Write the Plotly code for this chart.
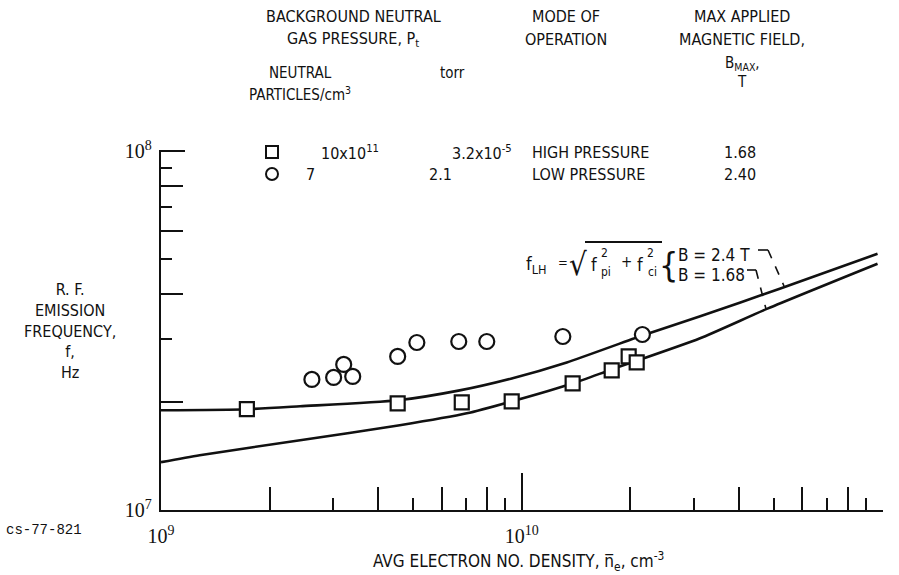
import plotly.graph_objects as go

# ---- measured data -------------------------------------------------------
# High pressure mode (squares), B_max = 1.68 T
hp_density = [1.73e9, 4.53e9, 6.82e9, 9.38e9, 1.384e10, 1.776e10, 1.979e10, 2.083e10]
hp_freq = [1.909e7, 1.983e7, 1.995e7, 2.008e7, 2.253e7, 2.448e7, 2.678e7, 2.577e7]

# Low pressure mode (circles), B_max = 2.40 T
lp_density = [2.62e9, 3.01e9, 3.21e9, 3.40e9, 4.53e9, 5.12e9, 6.69e9, 8.0e9, 1.30e10, 2.16e10]
lp_freq = [2.311e7, 2.341e7, 2.544e7, 2.356e7, 2.678e7, 2.929e7, 2.948e7, 2.948e7, 3.044e7, 3.083e7]

# Lower hybrid frequency curves f_LH = sqrt(f_pi^2 + f_ci^2)
lh_hi_density = [1.0e9, 1.73e9, 2.43e9, 4.53e9, 6.73e9, 9.38e9, 1.333e10, 2.16e10, 3.11e10, 5.19e10, 9.69e10]
lh_hi_freq = [1.896e7, 1.909e7, 1.945e7, 2.021e7, 2.154e7, 2.326e7, 2.577e7, 3.063e7, 3.459e7, 4.137e7, 5.175e7]

lh_lo_density = [1.0e9, 1.28e9, 2.43e9, 4.59e9, 7.04e9, 9.38e9, 1.384e10, 1.776e10, 3.11e10, 4.80e10, 9.69e10]
lh_lo_freq = [1.359e7, 1.421e7, 1.565e7, 1.722e7, 1.859e7, 2.008e7, 2.253e7, 2.464e7, 3.005e7, 3.640e7, 4.855e7]

# legend table rows
neutral_density = ["10x10<sup>11</sup>", "7"]
pressure_torr = ["3.2x10<sup>-5</sup>", "2.1"]
operation_mode = ["HIGH PRESSURE", "LOW PRESSURE"]
b_max = ["1.68", "2.40"]

# tick values and labels
x_decades = [1e9, 1e10, 1e11]
x_decade_text = ["10<sup>9</sup>", "10<sup>10</sup>", "10<sup>11</sup>"]
y_decades = [1e7, 1e8]
y_decade_text = ["10<sup>7</sup>", "10<sup>8</sup>"]
even_x_ticks = [k * 10 ** e for e in (9, 10) for k in (2, 4, 6, 8)]
odd_x_ticks = [k * 10 ** e for e in (9, 10) for k in (3, 5, 7, 9)]
even_y_ticks = [2e7, 4e7, 6e7, 8e7]
odd_y_ticks = [3e7, 5e7, 7e7, 9e7]

# ---- layout geometry (pixels) -------------------------------------------
W, H = 899, 575
L, R, T, B = 161, 16, 150, 65
PW, PH = W - L - R, H - T - B

FONT = "DejaVu Sans Condensed, Liberation Sans Narrow, sans-serif"
SERIF = "Liberation Serif, DejaVu Serif, serif"
INK = "#111111"

# log ranges, nudged a hair past the end decades so their ticks are drawn
X_RANGE = [9, 11.0015]
Y_RANGE = [7, 8.003]


def px(x):
    return (x - L) / PW


def py(y):
    return (H - B - y) / PH


fig = go.Figure()

line_style = dict(color=INK, width=2.6, shape="spline", smoothing=0.6)
fig.add_trace(go.Scatter(x=lh_hi_density, y=lh_hi_freq, mode="lines", line=line_style,
                         showlegend=False, hoverinfo="skip"))
fig.add_trace(go.Scatter(x=lh_lo_density, y=lh_lo_freq, mode="lines", line=line_style,
                         showlegend=False, hoverinfo="skip"))

fig.add_trace(go.Scatter(x=hp_density, y=hp_freq, mode="markers", name="HIGH PRESSURE",
                         marker=dict(symbol="square", size=14, color="white",
                                     line=dict(color=INK, width=2.2)),
                         showlegend=False))
fig.add_trace(go.Scatter(x=lp_density, y=lp_freq, mode="markers", name="LOW PRESSURE",
                         marker=dict(symbol="circle", size=15, color="white",
                                     line=dict(color=INK, width=2.2)),
                         showlegend=False))

# overlay axes carrying the mid-length (even) tick marks
fig.add_trace(go.Scatter(x=[None], y=[None], xaxis="x2", yaxis="y2", showlegend=False))

axis_common = dict(type="log", showgrid=False, zeroline=False, showline=True,
                   linecolor=INK, linewidth=2.4, ticks="inside", tickcolor=INK,
                   tickwidth=2, mirror=False,
                   tickfont=dict(family=SERIF, size=20, color=INK))

fig.update_layout(
    width=W, height=H,
    margin=dict(l=L, r=R, t=T, b=B, pad=0),
    paper_bgcolor="white", plot_bgcolor="white",
    xaxis=dict(axis_common, range=X_RANGE, tickvals=x_decades, ticktext=x_decade_text,
               ticklen=37, ticklabelstandoff=7,
               minor=dict(tickvals=odd_x_ticks, ticklen=12, tickwidth=1.6, tickcolor=INK,
                          ticks="inside")),
    yaxis=dict(axis_common, range=Y_RANGE, tickvals=y_decades, ticktext=y_decade_text,
               ticklen=24, ticklabelstandoff=3,
               minor=dict(tickvals=odd_y_ticks, ticklen=11, tickwidth=1.6, tickcolor=INK,
                          ticks="inside")),
    xaxis2=dict(type="log", range=X_RANGE, overlaying="x", anchor="y", side="bottom",
                showgrid=False, zeroline=False, showline=False, showticklabels=False,
                ticks="inside", tickvals=even_x_ticks, ticklen=23, tickwidth=1.8, tickcolor=INK),
    yaxis2=dict(type="log", range=Y_RANGE, overlaying="y", anchor="x", side="left",
                showgrid=False, zeroline=False, showline=False, showticklabels=False,
                ticks="inside", tickvals=even_y_ticks, ticklen=22, tickwidth=1.8, tickcolor=INK),
)

annotations = []


def text(x, y, s, size=16, anchor="center", family=FONT):
    annotations.append(dict(xref="paper", yref="paper", x=px(x), y=py(y), text=s,
                            showarrow=False, xanchor=anchor, yanchor="middle",
                            font=dict(family=family, size=size, color=INK)))


# column headings
text(353, 16, "BACKGROUND NEUTRAL")
text(353, 39, "GAS PRESSURE, P<sub>t</sub>")
text(300, 73, "NEUTRAL", 15)
text(300, 94, "PARTICLES/cm<sup>3</sup>", 15)
text(452, 73, "torr", 15)
text(566, 16, "MODE OF")
text(566, 39, "OPERATION")
text(742, 16, "MAX APPLIED")
text(742, 39, "MAGNETIC FIELD,")
text(742, 64, "B<sub>MAX</sub>,", 15)
text(742, 82, "T", 15)

# table rows: symbol key, particle density, pressure, mode, field
row_y = [152, 174]
density_x = [350, 310]
pressure_x = [482, 440]
for ry, dx, tx, nd, pt, mode, bm in zip(row_y, density_x, pressure_x,
                                         neutral_density, pressure_torr, operation_mode, b_max):
    text(dx, ry, nd)
    text(tx, ry, pt)
    text(530, ry, mode, anchor="left")
    text(740, ry, bm)

# axis titles and figure code
text(70, 331, "R. F.<br>EMISSION<br>FREQUENCY,<br>f,<br>Hz", 16)
text(518, 561, "AVG ELECTRON NO. DENSITY, n&#773;<sub>e</sub>, cm<sup>-3</sup>", 17)
text(44, 530, "cs-77-821", 14, family="Liberation Mono, DejaVu Sans Mono, monospace")

# formula f_LH = sqrt(f_pi^2 + f_ci^2)
text(536, 265, "f<sub>LH</sub>", 18)
text(563, 262, "=", 13)
text(578, 264, "&#8730;", 31)
text(594, 264, "f", 18)
text(604, 253, "2", 12)
text(606, 272, "pi", 12)
text(626, 262, "+", 15)
text(640, 264, "f", 18)
text(650, 253, "2", 12)
text(652, 272, "ci", 12)
text(668, 265, "{", 34)
text(676, 255, "B = 2.4 T", 17, anchor="left")
text(676, 275, "B = 1.68", 17, anchor="left")

shapes = [
    # radical bar
    dict(type="line", xref="paper", yref="paper", x0=px(585), x1=px(662), y0=py(242), y1=py(242),
         line=dict(color=INK, width=1.8)),
    # leader hooks to the curves
    dict(type="line", xref="paper", yref="paper", x0=px(758), x1=px(768), y0=py(250), y1=py(250),
         line=dict(color=INK, width=1.6)),
    dict(type="line", xref="paper", yref="paper", x0=px(768), x1=px(784), y0=py(250), y1=py(286),
         line=dict(color=INK, width=1.6, dash="dash")),
    dict(type="line", xref="paper", yref="paper", x0=px(747), x1=px(756), y0=py(270), y1=py(270),
         line=dict(color=INK, width=1.6)),
    dict(type="line", xref="paper", yref="paper", x0=px(756), x1=px(766), y0=py(270), y1=py(309),
         line=dict(color=INK, width=1.6, dash="dash")),
    # legend keys
    dict(type="rect", xref="paper", yref="paper", x0=px(266), x1=px(278), y0=py(146), y1=py(158),
         line=dict(color=INK, width=2), fillcolor="white"),
    dict(type="circle", xref="paper", yref="paper", x0=px(266), x1=px(278), y0=py(168), y1=py(180),
         line=dict(color=INK, width=2), fillcolor="white"),
]

fig.update_layout(annotations=annotations, shapes=shapes)

fig.write_html("out.html")
